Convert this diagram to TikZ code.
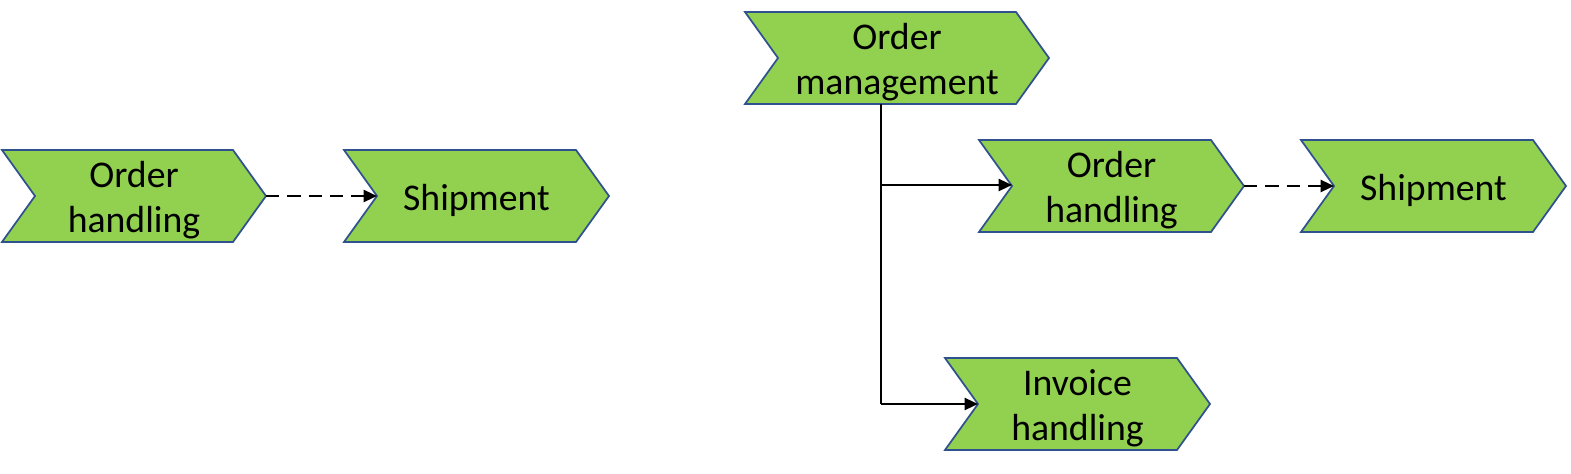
\documentclass[tikz,border=0pt]{standalone}
\usepackage{fontspec}
\setmainfont{Carlito}
\usetikzlibrary{arrows.meta}
\definecolor{chevfill}{HTML}{92D050}
\definecolor{chevline}{HTML}{2F528F}
\tikzset{
  chevshape/.style={fill=chevfill,draw=chevline,line width=1.3pt,line join=miter},
  lbl/.style={inner sep=0pt,align=center,font=\fontsize{28.3}{33.8}\selectfont},
  flow/.style={draw=black,line width=1.6pt,-{Triangle[length=10pt,width=9pt]}},
  dflow/.style={flow,dash pattern=on 10pt off 6pt},
}
% name, left x, top y, total width, text
\newcommand{\chev}[5]{%
  \draw[chevshape] (#2,#3) -- ({#2+#4-33},#3) -- ({#2+#4},{#3+46}) -- ({#2+#4-33},{#3+92}) -- (#2,{#3+92}) -- ({#2+33},{#3+46}) -- cycle;
  \coordinate (#1-notch) at ({#2+33},{#3+46});
  \coordinate (#1-tip) at ({#2+#4},{#3+46});
  \node[lbl] (#1) at ({#2+#4/2},{#3+50}) {#5};
}
\begin{document}
\begin{tikzpicture}[x=0.75pt,y=-0.75pt]
\useasboundingbox (0,0) rectangle (1571,474);
\chev{oh1}{2}{150}{264}{Order\\handling}
\chev{sh1}{344}{150}{265}{Shipment}
\chev{om}{745}{12}{304}{Order\\management}
\chev{oh2}{979}{140}{265}{Order\\handling}
\chev{sh2}{1301}{140}{265}{Shipment}
\chev{ih}{945}{358}{265}{Invoice\\handling}
\coordinate (omb) at (881,104);
\coordinate (br) at (881,185);
\coordinate (cor) at (881,404);
\draw[dflow] (oh1-tip) -- (sh1-notch);
\draw[dflow] (oh2-tip) -- (sh2-notch);
\draw[line width=1.6pt] (omb) -- (cor);
\draw[flow] (br) -- (br -| oh2-notch);
\draw[flow] (cor) -- (ih-notch);
\end{tikzpicture}
\end{document}
